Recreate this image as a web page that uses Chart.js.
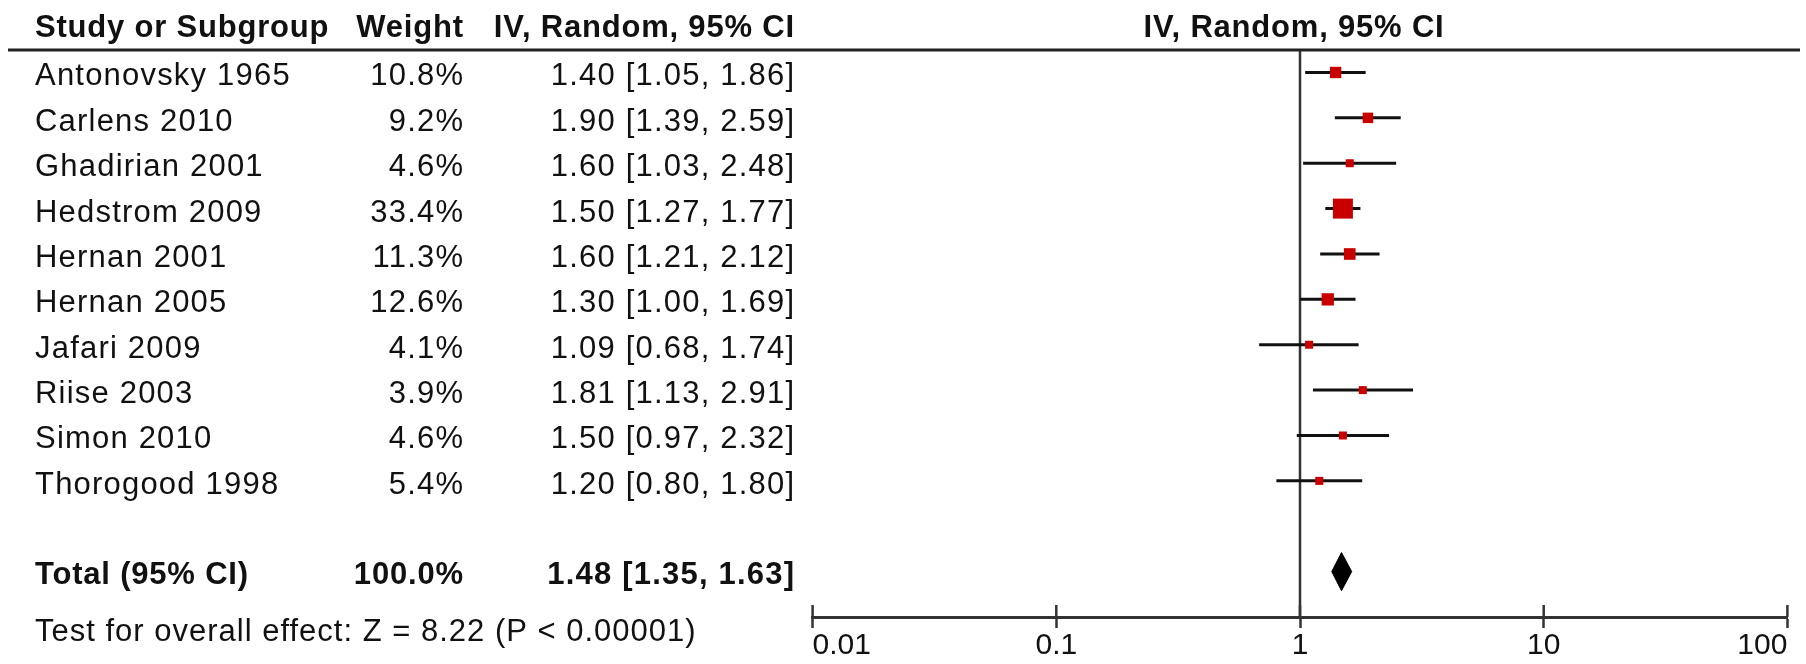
<!DOCTYPE html>
<html>
<head>
<meta charset="utf-8">
<title>Forest plot</title>
<script src="https://cdn.jsdelivr.net/npm/chart.js@4/dist/chart.umd.min.js"></script>
<style>
  html, body { margin: 0; padding: 0; background: #fff; }
  canvas { display: block; }
</style>
</head>
<body>
<canvas id="forest" width="1806" height="664"></canvas>
<script>
// Study-level data (risk ratios, IV random effects)
const studies = ['Antonovsky 1965', 'Carlens 2010', 'Ghadirian 2001', 'Hedstrom 2009', 'Hernan 2001',
                 'Hernan 2005', 'Jafari 2009', 'Riise 2003', 'Simon 2010', 'Thorogood 1998'];
const weights = [10.8, 9.2, 4.6, 33.4, 11.3, 12.6, 4.1, 3.9, 4.6, 5.4];
const ratios  = [1.40, 1.90, 1.60, 1.50, 1.60, 1.30, 1.09, 1.81, 1.50, 1.20];
const lower   = [1.05, 1.39, 1.03, 1.27, 1.21, 1.00, 0.68, 1.13, 0.97, 0.80];
const upper   = [1.86, 2.59, 2.48, 1.77, 2.12, 1.69, 1.74, 2.91, 2.32, 1.80];

// Pooled estimate
const totalLabel = 'Total (95% CI)';
const totalWeight = 100.0;
const totalRatio = 1.48;
const totalLower = 1.35;
const totalUpper = 1.63;
const overallTest = 'Test for overall effect: Z = 8.22 (P < 0.00001)';

// Axis ticks and headers
const tickValues = [0.01, 0.1, 1, 10, 100];
const tickLabels = ['0.01', '0.1', '1', '10', '100'];
const columnHeaders = ['Study or Subgroup', 'Weight', 'IV, Random, 95% CI'];
const plotHeader = 'IV, Random, 95% CI';

// Row positions on the y scale
const TOTAL_ROW = 11;
const AXIS_ROW = 12;
const FONT = '"Liberation Sans", Arial, sans-serif';

const fmtCI = (r, lo, hi) => r.toFixed(2) + ' [' + lo.toFixed(2) + ', ' + hi.toFixed(2) + ']';

// Confidence interval whiskers, one line per study
const ciSets = studies.map((s, i) => ({
  label: s + ' CI',
  data: [{ x: lower[i], y: i }, { x: upper[i], y: i }],
  showLine: true,
  borderColor: '#111',
  borderWidth: 3,
  pointRadius: 0,
  clip: false,
  order: 2
}));

// Weighted squares: area proportional to study weight
const boxSet = {
  label: 'Estimates',
  data: studies.map((s, i) => ({ x: ratios[i], y: i, w: weights[i] })),
  pointStyle: 'rect',
  pointRadius: ctx => {
    const w = ctx.raw ? ctx.raw.w : 10;
    const side = Math.max(8, 3.46 * Math.sqrt(w));
    return side / Math.SQRT2;
  },
  backgroundColor: '#c80000',
  borderWidth: 0,
  clip: false,
  order: 1
};

// Pooled diamond
const dh = 0.42;
const diamondSet = {
  label: 'Pooled',
  data: [
    { x: totalLower, y: TOTAL_ROW },
    { x: totalRatio, y: TOTAL_ROW - dh },
    { x: totalUpper, y: TOTAL_ROW },
    { x: totalRatio, y: TOTAL_ROW + dh },
    { x: totalLower, y: TOTAL_ROW }
  ],
  showLine: true,
  fill: 'shape',
  backgroundColor: '#000',
  borderColor: '#000',
  borderWidth: 1,
  pointRadius: 0,
  tension: 0,
  clip: false,
  order: 1
};

// Line of no effect
const nullSet = {
  label: 'No effect',
  data: [{ x: 1, y: -0.5 }, { x: 1, y: AXIS_ROW }],
  showLine: true,
  borderColor: '#333',
  borderWidth: 2.5,
  pointRadius: 0,
  clip: false,
  order: 3
};

// Table columns and header rule drawn beside the plot
const tablePlugin = {
  id: 'forestTable',
  afterDraw(chart) {
    const ctx = chart.ctx;
    const ys = chart.scales.y;
    const xs = chart.scales.x;
    ctx.save();
    ctx.fillStyle = '#111';
    ctx.textBaseline = 'alphabetic';

    // header rule
    ctx.strokeStyle = '#222';
    ctx.lineWidth = 3;
    ctx.beginPath();
    ctx.moveTo(8, 50);
    ctx.lineTo(1800, 50);
    ctx.stroke();

    const put = (txt, x, y, align, bold, spacing) => {
      ctx.font = (bold ? 'bold ' : '') + '31px ' + FONT;
      ctx.letterSpacing = spacing + 'px';
      ctx.textAlign = align;
      ctx.fillText(txt, align === 'right' ? x + spacing : x, y);
    };

    // headers
    const hy = 37;
    put(columnHeaders[0], 35, hy, 'left', true, 0.8);
    put(columnHeaders[1], 463, hy, 'right', true, 0.8);
    put(columnHeaders[2], 794, hy, 'right', true, 0.8);
    put(plotHeader, (xs.left + xs.right) / 2 - 6, hy, 'center', true, 0.8);

    // study rows
    studies.forEach((s, i) => {
      const y = ys.getPixelForValue(i) + 13;
      put(s, 35, y, 'left', false, 1.2);
      put(weights[i].toFixed(1) + '%', 463, y, 'right', false, 1.2);
      put(fmtCI(ratios[i], lower[i], upper[i]), 794, y, 'right', false, 1.2);
    });

    // pooled row
    const ty = ys.getPixelForValue(TOTAL_ROW) + 12;
    put(totalLabel, 35, ty, 'left', true, 0.8);
    put(totalWeight.toFixed(1) + '%', 463, ty, 'right', true, 0.8);
    put(fmtCI(totalRatio, totalLower, totalUpper), 794, ty, 'right', true, 1.2);

    // overall effect test, just below the axis line
    const ey = xs.top + 24;
    put(overallTest, 35, ey, 'left', false, 1.0);

    // upper half of the axis tick marks
    ctx.strokeStyle = '#333';
    ctx.lineWidth = 2.5;
    xs.ticks.forEach(t => {
      const px = xs.getPixelForValue(t.value);
      ctx.beginPath();
      ctx.moveTo(px, xs.top - 12);
      ctx.lineTo(px, xs.top);
      ctx.stroke();
    });
    ctx.restore();
  }
};

new Chart(document.getElementById('forest'), {
  type: 'scatter',
  data: { datasets: [nullSet, ...ciSets, boxSet, diamondSet] },
  options: {
    responsive: false,
    animation: false,
    devicePixelRatio: 1,
    layout: { padding: { left: 812.6, right: 18.6, top: 49.8, bottom: 0 } },
    plugins: { legend: { display: false }, tooltip: { enabled: false } },
    scales: {
      x: {
        type: 'logarithmic',
        position: 'bottom',
        min: 0.01,
        max: 100,
        afterBuildTicks: scale => {
          scale.ticks = tickValues.map(v => ({ value: v, major: true }));
        },
        ticks: {
          autoSkip: false,
          maxRotation: 0,
          minRotation: 0,
          align: 'inner',
          padding: 0,
          color: '#111',
          font: { family: FONT, size: 30 },
          callback: (v, i) => tickLabels[i]
        },
        grid: {
          display: true,
          drawOnChartArea: false,
          drawTicks: true,
          tickLength: 11,
          tickWidth: 2.5,
          tickColor: '#333'
        },
        border: { display: true, width: 3, color: '#333' }
      },
      y: {
        type: 'linear',
        reverse: true,
        min: -0.5,
        max: AXIS_ROW,
        display: false
      }
    }
  },
  plugins: [tablePlugin]
});
</script>
</body>
</html>
